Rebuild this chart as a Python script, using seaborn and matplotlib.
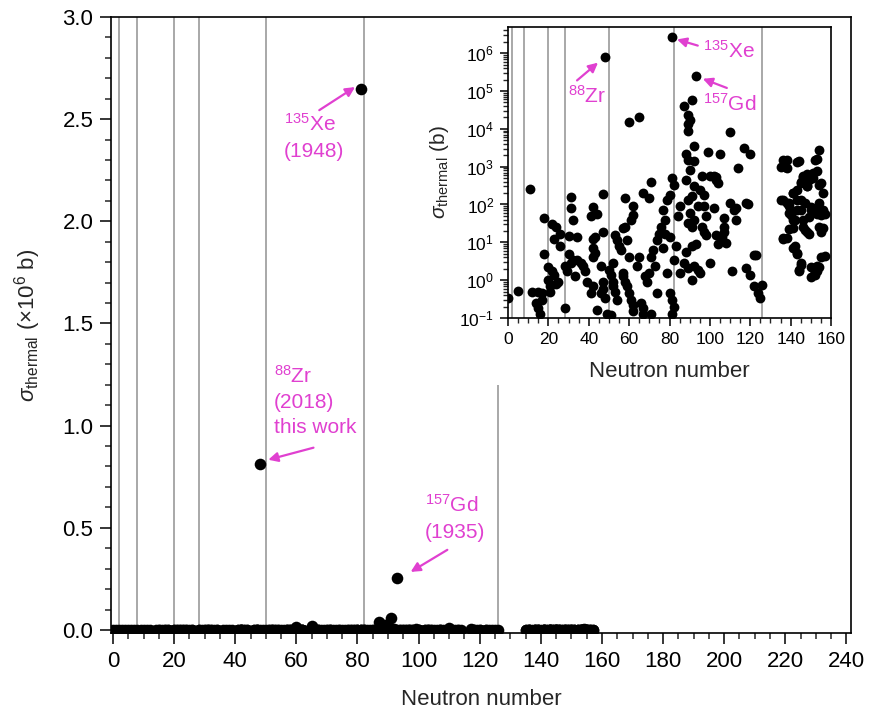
import numpy as np
import pandas as pd
import matplotlib
matplotlib.use("Agg")
import matplotlib.pyplot as plt
from matplotlib.ticker import MultipleLocator, LogLocator, NullFormatter
import seaborn as sns

sns.set_theme(style="ticks")
plt.rcParams['font.family'] = ['Liberation Sans', 'DejaVu Sans']
plt.rcParams['mathtext.fontset'] = 'custom'
plt.rcParams['mathtext.rm'] = 'Liberation Sans'
plt.rcParams['mathtext.it'] = 'Liberation Sans:italic'
plt.rcParams['mathtext.bf'] = 'Liberation Sans:bold'
plt.rcParams['axes.unicode_minus'] = True

# ---------------- data (neutron number, thermal cross section in barn) ----------------
neutron_number = [
    1, 2, 3, 4, 6, 7, 8, 9, 10,
    0, 5, 11, 12, 14, 15, 16, 15, 17, 17, 18, 18, 20, 20, 21, 21, 22, 24, 23, 22, 23, 24, 25, 26, 26,
    28, 28, 29, 31, 31, 32, 30, 30, 31, 32, 33, 34, 34, 36, 37, 38, 39, 41, 42, 42, 41, 44, 43, 42, 42,
    42, 43, 44, 46, 47, 47, 47, 47, 46, 48, 49, 51, 50, 51, 52, 52, 52, 53, 54, 53, 54, 55, 56, 57, 58,
    58, 60, 65, 61, 62, 62, 59, 60, 57, 57, 58, 59, 60, 61, 62, 62, 64, 65, 66, 67, 67, 67, 68, 69, 70,
    71, 70, 71, 71, 72, 73, 74, 74, 75, 76, 77, 77, 78, 78, 79, 80, 80, 79, 80, 81, 81, 81, 82, 82, 83,
    82, 84, 85, 85, 87, 87, 89, 89, 89, 90, 88, 89, 92, 92, 88, 90, 89, 91, 92, 89, 90, 91, 92, 94, 95,
    96, 97, 97, 98, 96, 97, 98, 93, 91, 88, 89, 92, 94, 95, 91, 99, 100, 100, 102, 103, 103, 105, 104,
    102, 104, 103, 106, 107, 107, 107, 108, 110, 110, 111, 112, 113, 113, 114, 117, 118, 119, 120, 118,
    120, 122, 123, 122, 124, 126, 125,
    48, 81, 93, 91,
    138, 137, 138, 144, 136, 138, 139, 140, 141, 143, 143, 143, 142, 141, 145, 146, 148, 148, 149, 151,
    153, 153, 154, 155, 156, 154, 156, 157, 153, 150, 147, 145, 146, 148, 149, 146, 138, 136, 156, 155,
    157, 142, 143, 145, 144, 151, 152, 153, 153,
    152, 136, 135, 143, 151, 146, 145, 154, 148, 141, 135, 139, 145, 150, 154, 155, 139, 141, 149, 139,
    147, 136, 154, 141, 143, 155, 145, 144, 150, 152, 154, 150,
]
sigma_barn = [
    0.0005, 0.04, 0.01, 0.008, 0.004, 0.04, 0.0003, 0.01, 0.004,
    0.33, 0.53, 250, 0.5, 0.25, 0.18, 0.13, 0.5, 0.45, 0.3, 45, 5, 2.2, 1.0, 0.7, 0.5, 30, 25, 12, 1.7, 1.4, 0.8, 0.9, 17, 7.8,
    0.18, 2.3, 1.7, 160, 80, 40, 14.5, 5, 2.8, 3.5, 1.3, 14, 3.5, 2.8, 2.3, 1.7, 0.9, 0.45, 0.7, 85, 50, 55, 14, 12, 7,
    4.2, 5.2, 0.16, 2.3, 19, 190, 0.9, 0.6, 0.45, 0.33, 0.13, 0.12, 1.9, 1.4, 2.8, 0.9, 0.7, 0.5, 0.3, 16, 11.7, 7.8, 6.4, 24, 26,
    150, 1.5e4, 2.0e4, 40, 93, 53, 11.7, 4.2, 1.5, 1.3, 0.9, 0.7, 0.45, 0.3, 0.22, 0.15, 2.3, 4.2, 0.25, 200, 0.18, 0.13, 1.3, 0.9, 150,
    400, 1.5, 4.2, 0.13, 6.4, 2.3, 0.45, 11.7, 17, 26, 72, 7, 40, 17, 130, 180, 14, 1.5, 0.45, 0.3, 0.13, 500, 0.2, 3.5, 7.8,
    330, 50, 90, 1.5, 2.8, 4.0e4, 2.3e4, 1.3e4, 9e3, 1.7e4, 2.1e3, 1.5e3, 1.4e3, 3.6e3, 450, 830, 130, 165, 300, 33, 60, 26, 40, 90, 245,
    560, 180, 90, 50, 26, 19, 16, 8.8, 7.8, 5.7, 2.1, 2.3, 1.9, 1.5, 1.0, 2.5e3, 2.8, 560, 560, 520, 450, 2.1e3, 360,
    80, 8.8, 16, 14, 19, 26, 44, 9.5, 8e3, 110, 1.7, 72, 80, 40, 900, 3.1e3, 110, 100, 2.1e3, 2.1,
    1.4, 4.7, 4.7, 0.7, 0.45, 0.76, 0.33,
    8.1e5, 2.65e6, 2.54e5, 5.8e4,
    1.5e3, 1.0e3, 900, 1.4e3, 135, 110, 90, 53, 200, 245, 135, 72, 40, 24, 370, 560, 620, 300, 450, 500,
    750, 1.6e3, 2.8e3, 370, 200, 110, 72, 55, 55, 72, 110, 72, 40, 19, 17, 26, 13, 12, 24, 19,
    4.4, 7.8, 5.2, 2.8, 1.9, 2.1, 1.4, 2.3, 1.7,
    1.5e3, 1.5e3, 980, 1.3e3, 680, 540, 400, 325, 300, 200, 130, 107, 130, 85, 80, 52, 59, 39, 47, 23,
    21, 13, 25, 7, 5, 4, 2.5, 1.7, 2.2, 1.7, 2.2, 1.2,
]
magic_numbers = [2, 8, 20, 28, 50, 82, 126]

df = pd.DataFrame({"N": neutron_number, "sigma": sigma_barn})
df["sigma_mega"] = df["sigma"] / 1e6

MAG = "#e040d0"
GRAY = "#9a9a9a"

W, H = 870, 715
fig = plt.figure(figsize=(W / 100, H / 100), dpi=100)

def px_axes(l, r, t, b):
    return [l / W, 1 - b / H, (r - l) / W, (b - t) / H]

# ---------------- main axes ----------------
ax = fig.add_axes(px_axes(111.5, 851, 17, 633))
for m in magic_numbers:
    if m == 126:
        ax.vlines(m, -0.1, 1.2, color=GRAY, lw=1.2, zorder=1)
    else:
        ax.axvline(m, color=GRAY, lw=1.2, zorder=1)
sns.scatterplot(data=df, x="N", y="sigma_mega", ax=ax, color="black", s=70,
                linewidth=0, zorder=3, legend=False)
ax.set_xlim(-0.5, 241.5)
ax.set_ylim(-0.015, 3.0)
ax.xaxis.set_major_locator(MultipleLocator(20))
ax.xaxis.set_minor_locator(MultipleLocator(5))
ax.yaxis.set_major_locator(MultipleLocator(0.5))
ax.yaxis.set_minor_locator(MultipleLocator(0.1))
ax.tick_params(which="major", direction="out", length=8, width=1.1, labelsize=16, colors="black", pad=5)
ax.tick_params(which="minor", direction="out", length=4.5, width=1.1)
for sp in ax.spines.values():
    sp.set_linewidth(1.2)
    sp.set_color("black")
ax.set_xlabel("Neutron number", fontsize=16, labelpad=12)
ax.set_ylabel(r"$\sigma_{\mathrm{thermal}}$ (×10$^{6}$ b)", fontsize=16, labelpad=14)

txt_kw = dict(color=MAG, fontsize=15, ha="left", va="center")
arr_kw = dict(arrowstyle="-|>", color=MAG, lw=1.6, mutation_scale=14, shrinkA=0, shrinkB=0)

ax.text(55.8, 2.475, r"$^{135}$Xe", **txt_kw)
ax.text(55.8, 2.34, "(1948)", **txt_kw)
ax.annotate("", xy=(79.2, 2.657), xytext=(67.5, 2.544), arrowprops=arr_kw)

ax.text(52.6, 1.245, r"$^{88}$Zr", **txt_kw)
ax.text(52.6, 1.113, "(2018)", **txt_kw)
ax.text(52.6, 0.99, "this work", **txt_kw)
ax.annotate("", xy=(50.8, 0.833), xytext=(65.6, 0.892), arrowprops=arr_kw)

ax.text(102, 0.613, r"$^{157}$Gd", **txt_kw)
ax.text(102, 0.475, "(1935)", **txt_kw)
ax.annotate("", xy=(97.4, 0.284), xytext=(109.4, 0.392), arrowprops=arr_kw)

# ---------------- inset axes ----------------
ins = fig.add_axes(px_axes(508, 831, 27, 318), zorder=5)
ins.set_facecolor("white")
for m in magic_numbers:
    ins.axvline(m, color=GRAY, lw=1.2, zorder=1)
sns.scatterplot(data=df, x="N", y="sigma", ax=ins, color="black", s=50,
                linewidth=0, zorder=3, legend=False)
ins.set_yscale("log")
ins.set_xlim(0, 160)
ins.set_ylim(0.1, 4.9e6)
ins.xaxis.set_major_locator(MultipleLocator(20))
ins.xaxis.set_minor_locator(MultipleLocator(5))
ins.yaxis.set_major_locator(LogLocator(base=10, numticks=20))
ins.yaxis.set_minor_locator(LogLocator(base=10, subs=np.arange(2, 10), numticks=20))
ins.yaxis.set_minor_formatter(NullFormatter())
ins.tick_params(which="major", direction="out", length=6, width=1.1, labelsize=12.5, colors="black", pad=4)
ins.tick_params(which="minor", direction="out", length=3.5, width=1.0)
for sp in ins.spines.values():
    sp.set_linewidth(1.2)
    sp.set_color("black")
ins.set_xlabel("Neutron number", fontsize=16, labelpad=10)
ins.set_ylabel(r"$\sigma_{\mathrm{thermal}}$ (b)", fontsize=15, labelpad=6)

ins.text(29.7, 7.6e4, r"$^{88}$Zr", **txt_kw)
ins.annotate("", xy=(44.6, 5.6e5), xytext=(34.2, 1.9e5), arrowprops=arr_kw)
ins.text(96.5, 1.17e6, r"$^{135}$Xe", **txt_kw)
ins.annotate("", xy=(83.7, 2.3e6), xytext=(94.0, 1.58e6), arrowprops=arr_kw)
ins.text(96.5, 4.7e4, r"$^{157}$Gd", **txt_kw)
ins.annotate("", xy=(96.5, 2.1e5), xytext=(108.4, 1.2e5), arrowprops=arr_kw)

fig.savefig("out.png", dpi=100)
